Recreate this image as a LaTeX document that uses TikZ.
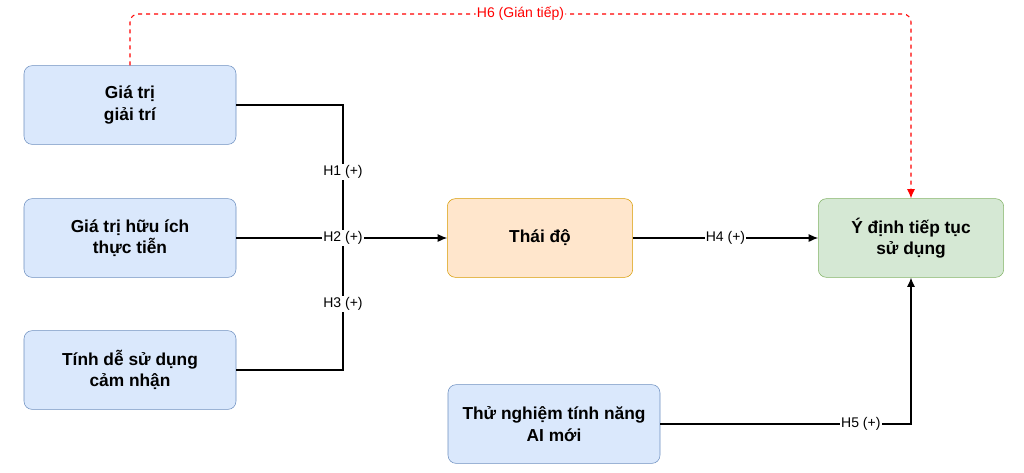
\documentclass[tikz,border=0pt]{standalone}
\usepackage{fontspec}
\setmainfont{Liberation Sans}
\usetikzlibrary{positioning,arrows.meta}
\definecolor{bluefill}{HTML}{DAE8FC}
\definecolor{blueline}{HTML}{6C8EBF}
\definecolor{orangefill}{HTML}{FFE6CC}
\definecolor{orangeline}{HTML}{D79B00}
\definecolor{greenfill}{HTML}{D5E8D4}
\definecolor{greenline}{HTML}{82B366}
\begin{document}
\begin{tikzpicture}[x=0.75pt, y=-0.75pt,
  box/.style={draw, rounded corners=6pt, align=center, font=\bfseries\fontsize{13}{16}\selectfont, inner sep=0pt},
  blue box/.style={box, fill=bluefill, draw=blueline, minimum width=159pt, minimum height=59pt},
  lbl/.style={fill=white, inner sep=1pt, font=\fontsize{10.5}{12}\selectfont},
  link/.style={thick, -{Latex[length=7pt,width=6pt]}}]
\useasboundingbox (0,0) rectangle (1024,472);

\node[blue box] (Entertain) at (130,105) {Giá trị\\giải trí};
\node[blue box] (Useful) at (130,238) {Giá trị hữu ích\\thực tiễn};
\node[blue box] (Ease) at (130,370) {Tính dễ sử dụng\\cảm nhận};
\node[box, fill=orangefill, draw=orangeline, minimum width=139pt, minimum height=59pt] (Attitude) at (540,238) {Thái độ};
\node[box, fill=greenfill, draw=greenline, minimum width=139pt, minimum height=59pt] (Intention) at (911,238) {Ý định tiếp tục\\sử dụng};
\node[blue box] (Trial) at (554,424) {Thử nghiệm tính năng\\AI mới};

% paths into attitude
\coordinate (Joint) at (343,238);
\draw[thick] (Entertain.east) -| (Joint);
\draw[thick] (Ease.east) -| (Joint);
\draw[link] (Useful) -- (Attitude);
\node[lbl] at (343,172) {H1 (+)};
\node[lbl] at (343,238) {H2 (+)};
\node[lbl] at (343,304) {H3 (+)};

\draw[link] (Attitude) -- node[lbl] {H4 (+)} (Intention);
\draw[link] (Trial.east) -| node[lbl, pos=0.4] {H5 (+)} (Intention.south);

% indirect effect
\draw[red, thick, dashed, -{Latex[length=7pt,width=6pt]}, rounded corners=6pt]
  (Entertain.north) -- (130,14) -- node[lbl] {H6 (Gián tiếp)} (911,14) -- (Intention.north);
\end{tikzpicture}
\end{document}
